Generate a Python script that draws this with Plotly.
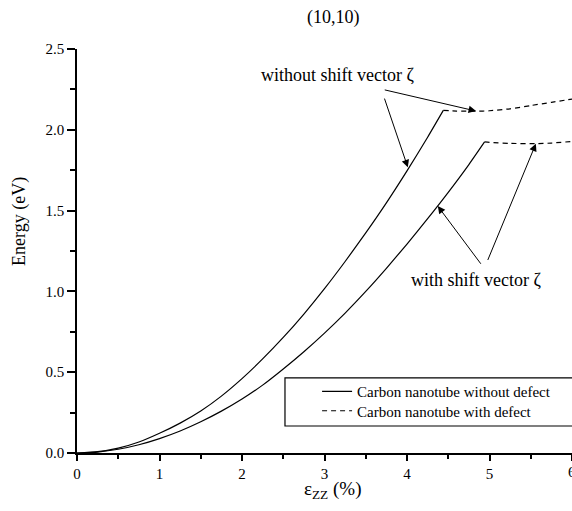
import plotly.graph_objects as go

# ---- data ----
strain_wo = [0, 0.25, 0.5, 0.75, 1.0, 1.25, 1.5, 1.75, 2.0, 2.25, 2.5, 2.75,
             3.0, 3.25, 3.5, 3.75, 4.0, 4.25, 4.44]
energy_wo = [0, 0.008, 0.03, 0.068, 0.122, 0.185, 0.26, 0.352, 0.46, 0.582, 0.715,
             0.86, 1.017, 1.185, 1.362, 1.548, 1.746, 1.954, 2.12]

strain_w = [0, 0.25, 0.5, 0.75, 1.0, 1.25, 1.5, 1.75, 2.0, 2.25, 2.5, 2.75,
            3.0, 3.25, 3.5, 3.75, 4.0, 4.25, 4.5, 4.75, 4.94]
energy_w = [0, 0.006, 0.023, 0.051, 0.089, 0.136, 0.193, 0.259, 0.334, 0.42, 0.52,
            0.627, 0.742, 0.866, 1.0, 1.143, 1.293, 1.45, 1.613, 1.785, 1.925]

strain_wo_def = [4.44, 4.6, 4.84, 5.0, 5.25, 5.5, 5.75, 6.0]
energy_wo_def = [2.12, 2.116, 2.115, 2.118, 2.13, 2.15, 2.17, 2.19]

strain_w_def = [4.94, 5.0, 5.25, 5.56, 5.75, 6.0]
energy_w_def = [1.925, 1.922, 1.916, 1.914, 1.918, 1.928]

x_ticks = [0, 1, 2, 3, 4, 5, 6]
y_ticks = [0.0, 0.5, 1.0, 1.5, 2.0, 2.5]
y_tick_text = ["0.0", "0.5", "1.0", "1.5", "2.0", "2.5"]

FONT = "Liberation Serif"
BLACK = "black"


def f(size):
    return dict(family=FONT, size=size, color=BLACK)


solid = dict(color=BLACK, width=1.2, shape="spline", smoothing=0.6)
dashed = dict(color=BLACK, width=1.2, dash="5px,4px", shape="spline", smoothing=0.6)

fig = go.Figure()
fig.add_trace(go.Scatter(x=strain_wo, y=energy_wo, mode="lines", line=solid,
                         name="Carbon nanotube without defect", showlegend=True,
                         legend="legend"))
fig.add_trace(go.Scatter(x=strain_w, y=energy_w, mode="lines", line=solid,
                         name="Carbon nanotube without defect", showlegend=False))
fig.add_trace(go.Scatter(x=strain_wo_def, y=energy_wo_def, mode="lines", line=dashed,
                         name="Carbon nanotube with defect", showlegend=True,
                         legend="legend2"))
fig.add_trace(go.Scatter(x=strain_w_def, y=energy_w_def, mode="lines", line=dashed,
                         name="Carbon nanotube with defect", showlegend=False))

annotations = [
    dict(text="(10,10)", xref="paper", yref="paper", x=0.519, y=1.077,
         showarrow=False, font=f(18), xanchor="center", yanchor="middle"),
    dict(text="ε<sub>ZZ</sub> (%)", xref="paper", yref="paper", x=0.517, y=-0.092,
         showarrow=False, font=f(19), xanchor="center", yanchor="middle"),
    dict(text="Energy (eV)", xref="paper", yref="paper", x=-0.115, y=0.572,
         showarrow=False, font=f(18), textangle=-90,
         xanchor="center", yanchor="middle"),
    dict(text="without shift vector ζ", x=3.152, y=2.339, xref="x", yref="y",
         showarrow=False, font=f(18), xanchor="center", yanchor="middle"),
    dict(text="with shift vector ζ", x=4.836, y=1.07, xref="x", yref="y",
         showarrow=False, font=f(18), xanchor="center", yanchor="middle"),
    # tick label at the clipped right edge
    dict(text="6", x=6, y=-0.047, xref="x", yref="paper",
         showarrow=False, font=f(15), xanchor="center", yanchor="middle"),
]
# arrows (tip, tail)
arrows = [
    ((4.837, 2.116), (3.688, 2.252)),
    ((4.01, 1.768), (3.688, 2.252)),
    ((4.373, 1.528), (4.937, 1.142)),
    ((5.562, 1.914), (4.937, 1.142)),
]
for (tx, ty), (ax_, ay_) in arrows:
    annotations.append(dict(x=tx, y=ty, ax=ax_, ay=ay_, xref="x", yref="y",
                            axref="x", ayref="y", text=" ", showarrow=True,
                            arrowhead=2, arrowsize=1.5, arrowwidth=1,
                            arrowcolor=BLACK, standoff=0, startstandoff=0))

leg_common = dict(xanchor="left", yanchor="middle", bgcolor="rgba(0,0,0,0)",
                  borderwidth=0, font=f(15))

fig.update_layout(
    width=572, height=511,
    margin=dict(l=77, r=0, t=49, b=58),
    paper_bgcolor="white", plot_bgcolor="white",
    font=f(15),
    showlegend=True,
    legend=dict(x=0.485, y=0.1517, **leg_common),
    legend2=dict(x=0.485, y=0.104, **leg_common),
    annotations=annotations,
    shapes=[dict(type="rect", xref="x", yref="y", x0=2.521, x1=6.6,
                 y0=0.167, y1=0.465, line=dict(color=BLACK, width=1.2),
                 fillcolor="rgba(0,0,0,0)", layer="above")],
)

fig.update_xaxes(range=[0, 6], showgrid=False, zeroline=False,
                 showline=True, linecolor=BLACK, linewidth=1.5,
                 ticks="outside", tickvals=x_ticks, ticklen=6, tickwidth=1.5,
                 tickcolor=BLACK, tickfont=f(15),
                 minor=dict(dtick=0.5, tick0=0, ticks="outside", ticklen=4,
                            tickwidth=1.5, tickcolor=BLACK, showgrid=False))
fig.update_yaxes(range=[0, 2.5], showgrid=False, zeroline=False,
                 showline=True, linecolor=BLACK, linewidth=1.5,
                 ticks="outside", tickvals=y_ticks, ticktext=y_tick_text,
                 ticklen=8, tickwidth=1.5, tickcolor=BLACK, tickfont=f(15),
                 minor=dict(dtick=0.25, tick0=0, ticks="outside", ticklen=5,
                            tickwidth=1.5, tickcolor=BLACK, showgrid=False))

fig.write_html("out.html")
